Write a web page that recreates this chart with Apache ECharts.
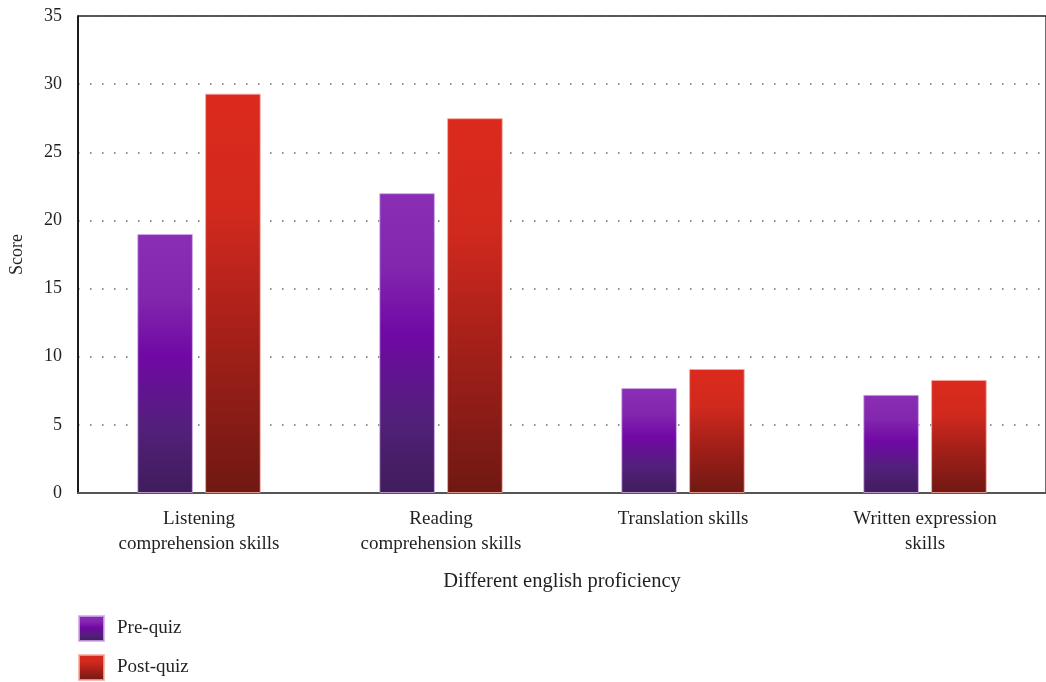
<!DOCTYPE html>
<html>
<head>
<meta charset="utf-8">
<script src="https://cdn.jsdelivr.net/npm/echarts@6/dist/echarts.min.js"></script>
<style>html,body{margin:0;padding:0;background:#fff;}#c{width:1046px;height:682px;}</style>
</head>
<body>
<div id="c"></div>
<script>
const categories = ["Listening\ncomprehension skills", "Reading\ncomprehension skills", "Translation skills", "Written expression\nskills"];
const preQuiz = [19.0, 22.0, 7.7, 7.2];
const postQuiz = [29.3, 27.5, 9.1, 8.3];
const seriesNames = ["Pre-quiz", "Post-quiz"];
const yTicks = {min: 0, max: 35, interval: 5};

const font = "'Liberation Serif', 'DejaVu Serif', serif";
const txt = '#231f20';

const preGrad = new echarts.graphic.LinearGradient(0, 0, 0, 1, [
  {offset: 0, color: '#8a2fb4'},
  {offset: 0.25, color: '#8226ae'},
  {offset: 0.47, color: '#7008a5'},
  {offset: 0.75, color: '#52207a'},
  {offset: 1, color: '#3f1d5a'}
]);
const postGrad = new echarts.graphic.LinearGradient(0, 0, 0, 1, [
  {offset: 0, color: '#dc2a1d'},
  {offset: 0.3, color: '#d1291e'},
  {offset: 0.6, color: '#a52019'},
  {offset: 1, color: '#701813'}
]);

const chart = echarts.init(document.getElementById('c'), null, {renderer: 'canvas'});
chart.setOption({
  animation: false,
  backgroundColor: '#fff',
  grid: {left: 78, top: 16, right: -4, bottom: 189, show: true, borderColor: '#222', borderWidth: 1.3, backgroundColor: 'transparent'},
  legend: {
    orient: 'vertical', left: 78, top: 615, width: 300, height: 120, padding: 0, itemWidth: 25, itemHeight: 25, itemGap: 12,
    icon: 'rect',
    textStyle: {fontFamily: font, fontSize: 19, color: txt, padding: [0, 0, 0, 8]},
    data: seriesNames
  },
  xAxis: {
    type: 'category', data: categories,
    name: 'Different english proficiency', nameLocation: 'middle', nameGap: 78,
    nameTextStyle: {fontFamily: font, fontSize: 20.5, color: txt},
    axisLine: {lineStyle: {color: '#555', width: 2}},
    axisTick: {show: false},
    axisLabel: {fontFamily: font, fontSize: 19, color: txt, lineHeight: 25, margin: 14, interval: 0}
  },
  yAxis: {
    type: 'value', min: yTicks.min, max: yTicks.max, interval: yTicks.interval,
    name: 'Score', nameLocation: 'middle', nameGap: 52,
    nameTextStyle: {fontFamily: font, fontSize: 18, color: txt},
    axisLine: {show: true, lineStyle: {color: '#000', width: 1.5}},
    axisTick: {show: false},
    axisLabel: {fontFamily: font, fontSize: 18, color: txt, margin: 16},
    splitLine: {lineStyle: {color: '#666', width: 1.5, type: [1.5, 10.5]}}
  },
  series: [
    {name: seriesNames[0], type: 'bar', data: preQuiz, barGap: '22%', barCategoryGap: '49%',
     itemStyle: {color: preGrad, borderColor: 'rgba(210,170,235,0.8)', borderWidth: 1}},
    {name: seriesNames[1], type: 'bar', data: postQuiz,
     itemStyle: {color: postGrad, borderColor: 'rgba(245,170,160,0.8)', borderWidth: 1}}
  ]
});
</script>
</body>
</html>
